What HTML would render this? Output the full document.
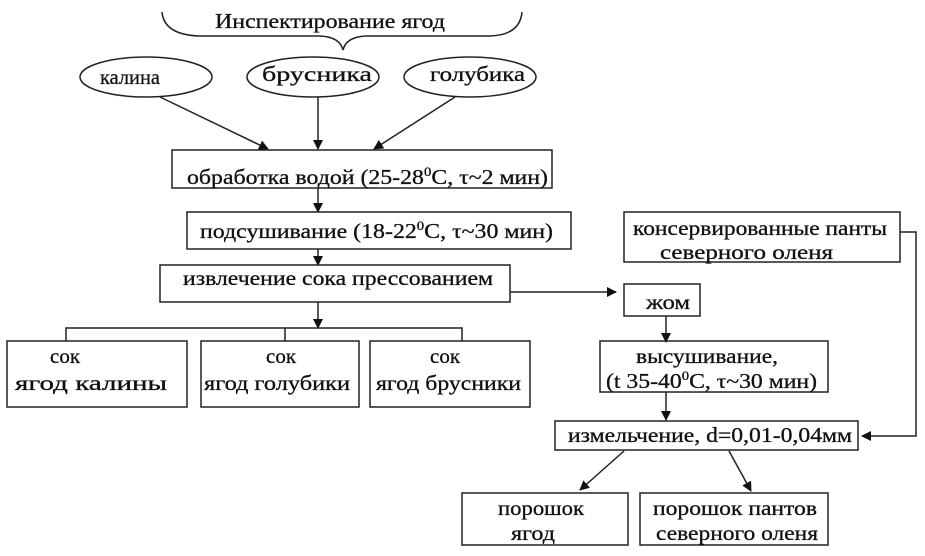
<!DOCTYPE html>
<html><head><meta charset="utf-8"><style>
body{margin:0;background:#fff;}
svg{display:block;}
text{font-family:"Liberation Serif",serif;font-size:21px;fill:#111;stroke:#111;stroke-width:0.3;}
</style></head><body>
<svg width="925" height="556" viewBox="0 0 925 556" xmlns="http://www.w3.org/2000/svg">
<defs><marker id="a" markerWidth="10" markerHeight="10" refX="9" refY="5" orient="auto" markerUnits="userSpaceOnUse"><path d="M0,0 L10,5 L0,10 z" fill="#111"/></marker></defs>
<g fill="none" stroke="#222" stroke-width="1.5">
<path d="M162,12 Q164,35 200,36 L320,36 Q340,37 343,50 Q346,37 366,36 L490,36 Q520,35 522,12"/>
<ellipse cx="146" cy="77" rx="66" ry="20"/>
<ellipse cx="313" cy="77" rx="66" ry="20"/>
<ellipse cx="470" cy="77" rx="66" ry="20"/>
<line x1="160" y1="97" x2="268" y2="149" marker-end="url(#a)"/>
<line x1="318" y1="97" x2="318" y2="149" marker-end="url(#a)"/>
<line x1="455" y1="97" x2="374" y2="149" marker-end="url(#a)"/>
<rect x="172" y="150" width="380" height="38"/>
<line x1="318" y1="188" x2="318" y2="212" marker-end="url(#a)"/>
<rect x="187" y="212" width="384" height="37"/>
<line x1="318" y1="249" x2="318" y2="265" marker-end="url(#a)"/>
<rect x="160" y="265" width="350" height="37"/>
<line x1="318" y1="302" x2="318" y2="328" marker-end="url(#a)"/>
<path d="M66,341 V328 H462 V341 M285,328 V341"/>
<rect x="7" y="341" width="180" height="66"/>
<rect x="201" y="341" width="158" height="66"/>
<rect x="370" y="341" width="160" height="66"/>
<line x1="510" y1="292" x2="616" y2="292" marker-end="url(#a)"/>
<rect x="624" y="284" width="76" height="32"/>
<rect x="624" y="212" width="276" height="50"/>
<line x1="666" y1="316" x2="666" y2="342" marker-end="url(#a)"/>
<rect x="600" y="341" width="228" height="51"/>
<line x1="666" y1="392" x2="666" y2="420" marker-end="url(#a)"/>
<rect x="555" y="421" width="303" height="29"/>
<path d="M900,232 H916 V436 H862" marker-end="url(#a)"/>
<line x1="624" y1="451" x2="580" y2="490" marker-end="url(#a)"/>
<line x1="729" y1="451" x2="751" y2="491" marker-end="url(#a)"/>
<rect x="462" y="493" width="166" height="52"/>
<rect x="640" y="493" width="188" height="52"/>
</g>
<g>
<text x="215" y="28" textLength="230" lengthAdjust="spacingAndGlyphs">Инспектирование ягод</text>
<text x="100" y="84" textLength="60" lengthAdjust="spacingAndGlyphs">калина</text>
<text x="262" y="81" textLength="110" lengthAdjust="spacingAndGlyphs">брусника</text>
<text x="430" y="81" textLength="95" lengthAdjust="spacingAndGlyphs">голубика</text>
<text x="187" y="184" textLength="361" lengthAdjust="spacingAndGlyphs">обработка водой (25-28<tspan dy="-8" font-size="13">0</tspan><tspan dy="8">С, τ~2 мин)</tspan></text>
<text x="200" y="238" textLength="353" lengthAdjust="spacingAndGlyphs">подсушивание (18-22<tspan dy="-8" font-size="13">0</tspan><tspan dy="8">С, τ~30 мин)</tspan></text>
<text x="183" y="285" textLength="310" lengthAdjust="spacingAndGlyphs">извлечение сока прессованием</text>
<text x="50" y="363">сок</text>
<text x="15" y="390" textLength="152" lengthAdjust="spacingAndGlyphs">ягод калины</text>
<text x="266" y="363">сок</text>
<text x="204" y="390" textLength="146" lengthAdjust="spacingAndGlyphs">ягод голубики</text>
<text x="430" y="363">сок</text>
<text x="376" y="390" textLength="145" lengthAdjust="spacingAndGlyphs">ягод брусники</text>
<text x="633" y="235" textLength="254" lengthAdjust="spacingAndGlyphs">консервированные панты</text>
<text x="660" y="259" textLength="173" lengthAdjust="spacingAndGlyphs">северного оленя</text>
<text x="646" y="309" textLength="44" lengthAdjust="spacingAndGlyphs">жом</text>
<text x="636" y="363" textLength="142" lengthAdjust="spacingAndGlyphs">высушивание,</text>
<text x="606" y="388" textLength="211" lengthAdjust="spacingAndGlyphs">(t 35-40<tspan dy="-8" font-size="13">0</tspan><tspan dy="8">С, τ~30 мин)</tspan></text>
<text x="568" y="442" textLength="284" lengthAdjust="spacingAndGlyphs">измельчение, d=0,01-0,04мм</text>
<text x="498" y="515" textLength="86" lengthAdjust="spacingAndGlyphs">порошок</text>
<text x="511" y="540" textLength="44" lengthAdjust="spacingAndGlyphs">ягод</text>
<text x="653" y="515" textLength="164" lengthAdjust="spacingAndGlyphs">порошок пантов</text>
<text x="656" y="540" textLength="162" lengthAdjust="spacingAndGlyphs">северного оленя</text>
</g>
</svg>
</body></html>
